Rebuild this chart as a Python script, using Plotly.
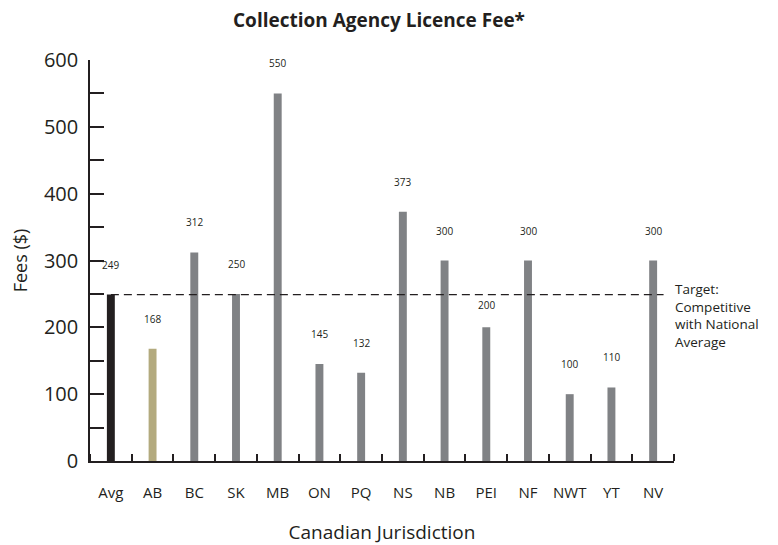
import plotly.graph_objects as go

categories = ["Avg", "AB", "BC", "SK", "MB", "ON", "PQ", "NS", "NB", "PEI", "NF", "NWT", "YT", "NV"]
fees = [249, 168, 312, 250, 550, 145, 132, 373, 300, 200, 300, 100, 110, 300]
bar_colors = ["#231f20", "#b3aa7e"] + ["#808285"] * 12
target_value = 249
target_text = "Target:<br>Competitive<br>with National<br>Average"

FONT = "Open Sans"
INK = "#231f20"

# the page body has an 8px margin, so the figure is drawn 8px smaller
W, H = 770, 537

# label offsets (pixels above bar top); PEI label sits just under the target line
label_shift = {"PEI": 22}

xpos = list(range(len(categories)))
boundaries = [i - 0.5 for i in range(len(categories) + 1)]

fig = go.Figure()
fig.add_trace(go.Bar(
    x=xpos, y=fees, marker=dict(color=bar_colors, line=dict(width=0)),
    hovertext=categories, showlegend=False, width=0.19,
))

for x, c, v in zip(xpos, categories, fees):
    fig.add_annotation(x=x, y=v, text=str(v), showarrow=False, yshift=label_shift.get(c, 30),
                       font=dict(family=FONT, size=10, color=INK))

fig.add_shape(type="line", xref="x", yref="y", x0=0, x1=13.25, y0=target_value, y1=target_value,
              line=dict(color=INK, width=1.2, dash="8px,5px"))
fig.add_annotation(xref="paper", yref="y", x=1.0, y=target_value, xanchor="left", yanchor="top",
                   xshift=-1, yshift=17, text=target_text, showarrow=False, align="left",
                   font=dict(family=FONT, size=13.5, color=INK))

fig.update_layout(
    width=W, height=H,
    margin=dict(l=82, r=104, t=52, b=84),
    paper_bgcolor="white", plot_bgcolor="white",
    font=dict(family=FONT, color=INK),
    title=dict(text="<b>Collection Agency Licence Fee*</b>", x=371 / W, xanchor="center",
               y=1 - 12 / H, yanchor="middle", yref="container",
               font=dict(family=FONT, size=19, color=INK)),
    xaxis=dict(
        range=[-0.5, 13.5], tickvals=xpos, ticktext=categories, ticks="",
        showline=True, linecolor=INK, linewidth=1.5, automargin=False,
        showgrid=False, zeroline=False, tickfont=dict(family=FONT, size=15, color=INK),
        ticklabelstandoff=17,
        minor=dict(tickvals=boundaries, ticks="inside", ticklen=7, tickwidth=2,
                   tickcolor=INK, showgrid=False),
        title=dict(text="Canadian Jurisdiction", font=dict(family=FONT, size=19, color=INK), standoff=30),
    ),
    yaxis=dict(
        range=[0, 600], tickvals=[0, 100, 200, 300, 400, 500, 600], ticks="inside", ticklen=14,
        tickwidth=1.5, tickcolor=INK, showline=True, linecolor=INK, linewidth=1.5, automargin=False,
        showgrid=False, zeroline=False, tickfont=dict(family=FONT, size=20, color=INK),
        ticklabelstandoff=6,
        minor=dict(tickvals=[50, 150, 250, 350, 450, 550], ticks="inside", ticklen=14, tickwidth=1.5,
                   tickcolor=INK, showgrid=False),
        title=dict(text="Fees ($)", font=dict(family=FONT, size=18, color=INK), standoff=19),
    ),
)

fig.write_html("out.html")
